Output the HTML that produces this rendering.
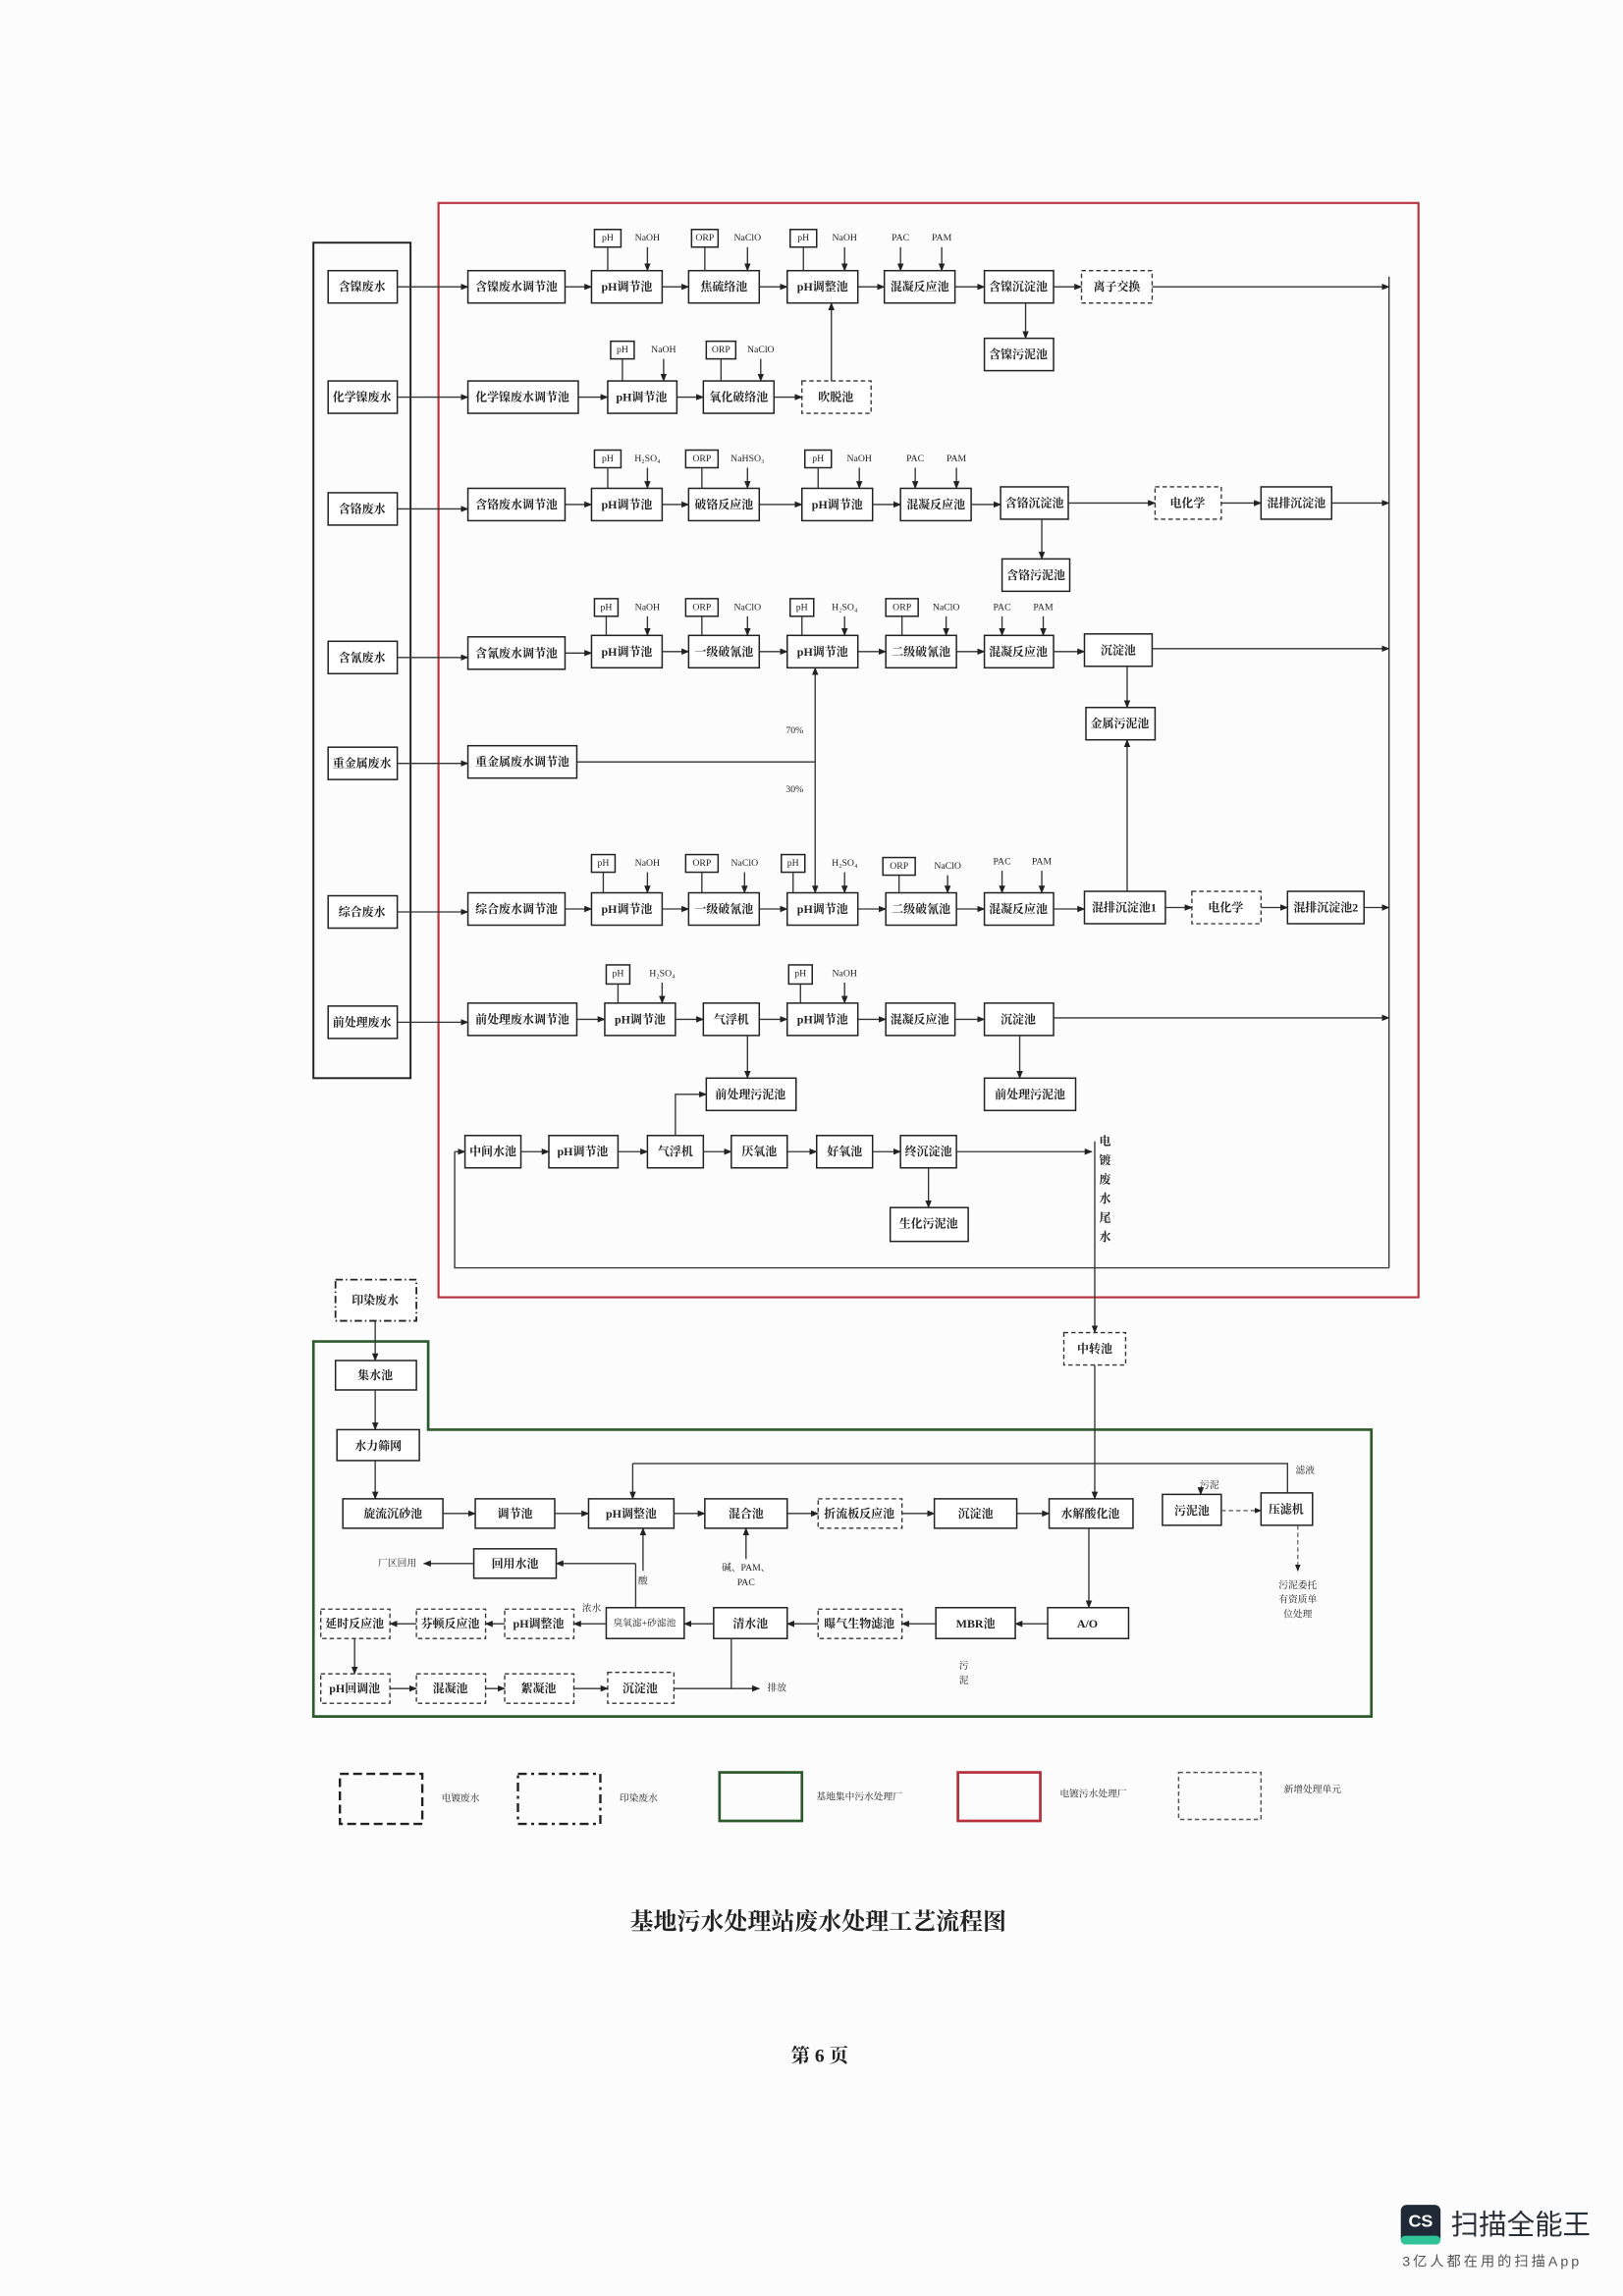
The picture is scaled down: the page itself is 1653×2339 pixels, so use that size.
<!DOCTYPE html>
<html><head><meta charset="utf-8">
<style>
html,body{margin:0;padding:0;background:#fcfcfc;}
svg{display:block;}
text{font-family:"Liberation Serif","Noto Serif CJK SC","Noto Sans CJK SC",serif;font-weight:bold;fill:#222;}
.b{fill:#fff;stroke:#222;stroke-width:1;}
.d{fill:#fff;stroke:#333;stroke-width:0.9;stroke-dasharray:3 2;}
.t{font-size:8px;text-anchor:middle;dominant-baseline:central;}
.s{font-size:6.5px;text-anchor:middle;dominant-baseline:central;font-weight:normal;}
.l{stroke:#333;stroke-width:0.9;fill:none;}
.a{stroke:#333;stroke-width:0.9;fill:none;marker-end:url(#ar);}
.ad{stroke:#555;stroke-width:0.8;fill:none;stroke-dasharray:3 2;marker-end:url(#ar);}
</style></head><body>
<svg width="1653" height="2339" viewBox="0 0 1103 1561" preserveAspectRatio="none" xmlns="http://www.w3.org/2000/svg">
<defs><marker id="ar" viewBox="0 0 10 10" refX="9" refY="5" markerWidth="6" markerHeight="6" orient="auto"><path d="M0,1 L10,5 L0,9 z" fill="#222"/></marker></defs>

<!-- red box -->
<rect x="298" y="138" width="666" height="744" fill="none" stroke="#b5303a" stroke-width="1.4"/>
<!-- source column -->
<rect x="213" y="165" width="66" height="568" fill="none" stroke="#222" stroke-width="1.3"/>
<g>
<rect class="b" x="223" y="184" width="47" height="22"/><text class="t" x="246" y="195">含镍废水</text>
<rect class="b" x="223" y="259" width="47" height="22"/><text class="t" x="246" y="270">化学镍废水</text>
<rect class="b" x="223" y="335" width="47" height="22"/><text class="t" x="246" y="346">含铬废水</text>
<rect class="b" x="223" y="436" width="47" height="22"/><text class="t" x="246" y="447">含氰废水</text>
<rect class="b" x="223" y="508" width="47" height="22"/><text class="t" x="246" y="519">重金属废水</text>
<rect class="b" x="223" y="609" width="47" height="22"/><text class="t" x="246" y="620">综合废水</text>
<rect class="b" x="223" y="684" width="47" height="22"/><text class="t" x="246" y="695">前处理废水</text>
</g>
<!-- source arrows -->
<path class="a" d="M270 195H318"/><path class="a" d="M270 270H318"/><path class="a" d="M270 346H318"/>
<path class="a" d="M270 447H318"/><path class="a" d="M270 519H318"/><path class="a" d="M270 620H318"/><path class="a" d="M270 695H318"/>

<!-- Row1 -->
<rect class="b" x="318" y="184" width="66" height="22"/><text class="t" x="351" y="195">含镍废水调节池</text>
<rect class="b" x="402" y="184" width="48" height="22"/><text class="t" x="426" y="195">pH调节池</text>
<rect class="b" x="468" y="184" width="48" height="22"/><text class="t" x="492" y="195">焦硫络池</text>
<rect class="b" x="535" y="184" width="48" height="22"/><text class="t" x="559" y="195">pH调整池</text>
<rect class="b" x="601" y="184" width="48" height="22"/><text class="t" x="625" y="195">混凝反应池</text>
<rect class="b" x="669" y="184" width="47" height="22"/><text class="t" x="692" y="195">含镍沉淀池</text>
<rect class="d" x="735" y="184" width="48" height="22"/><text class="t" x="759" y="195">离子交换</text>
<path class="a" d="M384 195H402"/><path class="a" d="M450 195H468"/><path class="a" d="M516 195H535"/><path class="a" d="M583 195H601"/><path class="a" d="M649 195H669"/><path class="a" d="M716 195H735"/><path class="a" d="M783 195H944"/>
<rect class="b" x="669" y="230" width="47" height="22"/><text class="t" x="692" y="241">含镍污泥池</text>
<path class="a" d="M697 206V230"/>
<!-- row1 sensors -->
<g>
<rect class="b" x="404" y="156" width="18" height="12"/><text class="s" x="413" y="162">pH</text><path class="l" d="M413 168V184"/><text class="s" x="440" y="162">NaOH</text><path class="a" d="M440 168V184"/>
<rect class="b" x="470" y="156" width="18" height="12"/><text class="s" x="479" y="162">ORP</text><path class="l" d="M479 168V184"/><text class="s" x="508" y="162">NaClO</text><path class="a" d="M508 168V184"/>
<rect class="b" x="537" y="156" width="18" height="12"/><text class="s" x="546" y="162">pH</text><path class="l" d="M546 168V184"/><text class="s" x="574" y="162">NaOH</text><path class="a" d="M574 168V184"/>
<text class="s" x="612" y="162">PAC</text><path class="a" d="M612 168V184"/><text class="s" x="640" y="162">PAM</text><path class="a" d="M640 168V184"/>
</g>

<!-- Row2 -->
<rect class="b" x="318" y="259" width="75" height="22"/><text class="t" x="355" y="270">化学镍废水调节池</text>
<rect class="b" x="413" y="259" width="47" height="22"/><text class="t" x="436" y="270">pH调节池</text>
<rect class="b" x="478" y="259" width="48" height="22"/><text class="t" x="502" y="270">氧化破络池</text>
<rect class="d" x="545" y="259" width="47" height="22"/><text class="t" x="568" y="270">吹脱池</text>
<path class="a" d="M393 270H413"/><path class="a" d="M460 270H478"/><path class="a" d="M526 270H545"/>
<path class="a" d="M565 259V206"/>
<rect class="b" x="415" y="232" width="16" height="12"/><text class="s" x="423" y="238">pH</text><path class="l" d="M423 244V259"/><text class="s" x="451" y="238">NaOH</text><path class="a" d="M451 244V259"/>
<rect class="b" x="480" y="232" width="20" height="12"/><text class="s" x="490" y="238">ORP</text><path class="l" d="M490 244V259"/><text class="s" x="517" y="238">NaClO</text><path class="a" d="M517 244V259"/>

<!-- Row3 -->
<rect class="b" x="318" y="332" width="66" height="22"/><text class="t" x="351" y="343">含铬废水调节池</text>
<rect class="b" x="402" y="332" width="48" height="22"/><text class="t" x="426" y="343">pH调节池</text>
<rect class="b" x="468" y="332" width="48" height="22"/><text class="t" x="492" y="343">破铬反应池</text>
<rect class="b" x="545" y="332" width="48" height="22"/><text class="t" x="569" y="343">pH调节池</text>
<rect class="b" x="612" y="332" width="48" height="22"/><text class="t" x="636" y="343">混凝反应池</text>
<rect class="b" x="680" y="331" width="46" height="22"/><text class="t" x="703" y="342">含铬沉淀池</text>
<rect class="d" x="785" y="331" width="45" height="22"/><text class="t" x="807" y="342">电化学</text>
<rect class="b" x="857" y="331" width="48" height="22"/><text class="t" x="881" y="342">混排沉淀池</text>
<path class="a" d="M384 343H402"/><path class="a" d="M450 343H468"/><path class="a" d="M516 343H545"/><path class="a" d="M593 343H612"/><path class="a" d="M660 343H680"/><path class="a" d="M726 342H785"/><path class="a" d="M830 342H857"/><path class="a" d="M905 342H944"/>
<rect class="b" x="681" y="380" width="46" height="22"/><text class="t" x="704" y="391">含铬污泥池</text>
<path class="a" d="M708 353V380"/>
<rect class="b" x="404" y="306" width="18" height="12"/><text class="s" x="413" y="312">pH</text><path class="l" d="M413 318V332"/><text class="s" x="440" y="312">H₂SO₄</text><path class="a" d="M440 318V332"/>
<rect class="b" x="466" y="306" width="22" height="12"/><text class="s" x="477" y="312">ORP</text><path class="l" d="M477 318V332"/><text class="s" x="508" y="312">NaHSO₃</text><path class="a" d="M508 318V332"/>
<rect class="b" x="547" y="306" width="18" height="12"/><text class="s" x="556" y="312">pH</text><path class="l" d="M556 318V332"/><text class="s" x="584" y="312">NaOH</text><path class="a" d="M584 318V332"/>
<text class="s" x="622" y="312">PAC</text><path class="a" d="M622 318V332"/><text class="s" x="650" y="312">PAM</text><path class="a" d="M650 318V332"/>

<!-- Row4 -->
<rect class="b" x="318" y="433" width="66" height="22"/><text class="t" x="351" y="444">含氰废水调节池</text>
<rect class="b" x="402" y="432" width="48" height="22"/><text class="t" x="426" y="443">pH调节池</text>
<rect class="b" x="468" y="432" width="48" height="22"/><text class="t" x="492" y="443">一级破氰池</text>
<rect class="b" x="535" y="432" width="48" height="22"/><text class="t" x="559" y="443">pH调节池</text>
<rect class="b" x="602" y="432" width="48" height="22"/><text class="t" x="626" y="443">二级破氰池</text>
<rect class="b" x="669" y="432" width="47" height="22"/><text class="t" x="692" y="443">混凝反应池</text>
<rect class="b" x="737" y="431" width="46" height="22"/><text class="t" x="760" y="442">沉淀池</text>
<path class="a" d="M384 444H402"/><path class="a" d="M450 443H468"/><path class="a" d="M516 443H535"/><path class="a" d="M583 443H602"/><path class="a" d="M650 443H669"/><path class="a" d="M716 443H737"/><path class="a" d="M783 441H944"/>
<rect class="b" x="738" y="481" width="47" height="22"/><text class="t" x="761" y="492">金属污泥池</text>
<path class="a" d="M766 453V481"/>
<rect class="b" x="404" y="407" width="16" height="12"/><text class="s" x="412" y="413">pH</text><path class="l" d="M412 419V432"/><text class="s" x="440" y="413">NaOH</text><path class="a" d="M440 419V432"/>
<rect class="b" x="466" y="407" width="22" height="12"/><text class="s" x="477" y="413">ORP</text><path class="l" d="M477 419V432"/><text class="s" x="508" y="413">NaClO</text><path class="a" d="M508 419V432"/>
<rect class="b" x="537" y="407" width="16" height="12"/><text class="s" x="545" y="413">pH</text><path class="l" d="M545 419V432"/><text class="s" x="574" y="413">H₂SO₄</text><path class="a" d="M574 419V432"/>
<rect class="b" x="602" y="407" width="22" height="12"/><text class="s" x="613" y="413">ORP</text><path class="l" d="M613 419V432"/><text class="s" x="643" y="413">NaClO</text><path class="a" d="M643 419V432"/>
<text class="s" x="681" y="413">PAC</text><path class="a" d="M681 419V432"/><text class="s" x="709" y="413">PAM</text><path class="a" d="M709 419V432"/>

<!-- Row5 -->
<rect class="b" x="318" y="507" width="74" height="22"/><text class="t" x="355" y="518">重金属废水调节池</text>
<path class="l" d="M392 518H554"/>
<path class="a" d="M554 518V454"/><path class="a" d="M554 518V607"/>
<text class="s" x="540" y="497">70%</text><text class="s" x="540" y="537">30%</text>
<path class="a" d="M766 607V503"/>

<!-- Row6 -->
<rect class="b" x="318" y="607" width="66" height="22"/><text class="t" x="351" y="618">综合废水调节池</text>
<rect class="b" x="402" y="607" width="48" height="22"/><text class="t" x="426" y="618">pH调节池</text>
<rect class="b" x="468" y="607" width="48" height="22"/><text class="t" x="492" y="618">一级破氰池</text>
<rect class="b" x="535" y="607" width="48" height="22"/><text class="t" x="559" y="618">pH调节池</text>
<rect class="b" x="602" y="607" width="48" height="22"/><text class="t" x="626" y="618">二级破氰池</text>
<rect class="b" x="669" y="607" width="47" height="22"/><text class="t" x="692" y="618">混凝反应池</text>
<rect class="b" x="737" y="606" width="55" height="22"/><text class="t" x="764" y="617">混排沉淀池1</text>
<rect class="d" x="810" y="606" width="47" height="22"/><text class="t" x="833" y="617">电化学</text>
<rect class="b" x="875" y="606" width="52" height="22"/><text class="t" x="901" y="617">混排沉淀池2</text>
<path class="a" d="M384 618H402"/><path class="a" d="M450 618H468"/><path class="a" d="M516 618H535"/><path class="a" d="M583 618H602"/><path class="a" d="M650 618H669"/><path class="a" d="M716 618H737"/><path class="a" d="M792 617H810"/><path class="a" d="M857 617H875"/><path class="a" d="M927 617H944"/>
<rect class="b" x="402" y="581" width="16" height="12"/><text class="s" x="410" y="587">pH</text><path class="l" d="M410 593V607"/><text class="s" x="440" y="587">NaOH</text><path class="a" d="M440 593V607"/>
<rect class="b" x="466" y="581" width="22" height="12"/><text class="s" x="477" y="587">ORP</text><path class="l" d="M477 593V607"/><text class="s" x="506" y="587">NaClO</text><path class="a" d="M506 593V607"/>
<rect class="b" x="531" y="581" width="16" height="12"/><text class="s" x="539" y="587">pH</text><path class="l" d="M539 593V607"/><text class="s" x="574" y="587">H₂SO₄</text><path class="a" d="M574 593V607"/>
<rect class="b" x="600" y="583" width="22" height="12"/><text class="s" x="611" y="589">ORP</text><path class="l" d="M611 595V607"/><text class="s" x="644" y="589">NaClO</text><path class="a" d="M644 595V607"/>
<text class="s" x="681" y="586">PAC</text><path class="a" d="M681 592V607"/><text class="s" x="708" y="586">PAM</text><path class="a" d="M708 592V607"/>

<!-- Row7 -->
<rect class="b" x="318" y="682" width="74" height="22"/><text class="t" x="355" y="693">前处理废水调节池</text>
<rect class="b" x="411" y="682" width="48" height="22"/><text class="t" x="435" y="693">pH调节池</text>
<rect class="b" x="478" y="682" width="38" height="22"/><text class="t" x="497" y="693">气浮机</text>
<rect class="b" x="535" y="682" width="48" height="22"/><text class="t" x="559" y="693">pH调节池</text>
<rect class="b" x="602" y="682" width="47" height="22"/><text class="t" x="625" y="693">混凝反应池</text>
<rect class="b" x="669" y="682" width="47" height="22"/><text class="t" x="692" y="693">沉淀池</text>
<path class="a" d="M392 693H411"/><path class="a" d="M459 693H478"/><path class="a" d="M516 693H535"/><path class="a" d="M583 693H602"/><path class="a" d="M649 693H669"/><path class="a" d="M716 692H944"/>
<rect class="b" x="480" y="733" width="61" height="22"/><text class="t" x="510" y="744">前处理污泥池</text>
<rect class="b" x="669" y="733" width="62" height="22"/><text class="t" x="700" y="744">前处理污泥池</text>
<path class="a" d="M508 704V733"/><path class="a" d="M693 704V733"/>
<rect class="b" x="412" y="656" width="16" height="13"/><text class="s" x="420" y="662">pH</text><path class="l" d="M420 669V682"/><text class="s" x="450" y="662">H₂SO₄</text><path class="a" d="M450 668V682"/>
<rect class="b" x="536" y="656" width="16" height="13"/><text class="s" x="544" y="662">pH</text><path class="l" d="M544 669V682"/><text class="s" x="574" y="662">NaOH</text><path class="a" d="M574 668V682"/>

<!-- Row8 -->
<rect class="b" x="316" y="772" width="38" height="22"/><text class="t" x="335" y="783">中间水池</text>
<rect class="b" x="373" y="772" width="47" height="22"/><text class="t" x="396" y="783">pH调节池</text>
<rect class="b" x="440" y="772" width="38" height="22"/><text class="t" x="459" y="783">气浮机</text>
<rect class="b" x="497" y="772" width="38" height="22"/><text class="t" x="516" y="783">厌氧池</text>
<rect class="b" x="555" y="772" width="38" height="22"/><text class="t" x="574" y="783">好氧池</text>
<rect class="b" x="612" y="772" width="38" height="22"/><text class="t" x="631" y="783">终沉淀池</text>
<path class="a" d="M354 783H373"/><path class="a" d="M420 783H440"/><path class="a" d="M478 783H497"/><path class="a" d="M535 783H555"/><path class="a" d="M593 783H612"/><path class="a" d="M650 783H742"/>
<path class="a" d="M459 772V744H480"/>
<rect class="b" x="605" y="821" width="53" height="23"/><text class="t" x="631" y="832">生化污泥池</text>
<path class="a" d="M631 794V821"/>
<text class="t" x="751" y="776">电</text><text class="t" x="751" y="789">镀</text><text class="t" x="751" y="802">废</text><text class="t" x="751" y="815">水</text><text class="t" x="751" y="828">尾</text><text class="t" x="751" y="841">水</text>
<!-- collector -->
<path class="l" d="M944 188V862"/>
<path class="l" d="M944 862H309V783"/><path class="a" d="M309 783H316"/>
<path class="l" d="M744 776V862"/>
<path class="a" d="M744 862V906"/>

<!-- Bottom green -->
<path d="M213 912H291V972H932V1167H213Z" fill="none" stroke="#2c5a2c" stroke-width="1.8"/>
<rect x="228" y="870" width="55" height="28" fill="#fff" stroke="#222" stroke-width="1.2" stroke-dasharray="5 2 1 2"/><text class="t" x="255" y="884">印染废水</text>
<rect class="b" x="228" y="925" width="55" height="20"/><text class="t" x="255" y="935">集水池</text>
<rect class="b" x="229" y="972" width="56" height="21"/><text class="t" x="257" y="983">水力筛网</text>
<path class="a" d="M255 898V925"/><path class="a" d="M255 945V972"/><path class="a" d="M255 993V1019"/>
<rect class="d" x="723" y="906" width="42" height="22"/><text class="t" x="744" y="917">中转池</text>
<path class="a" d="M744 928V1019"/>

<g>
<rect class="b" x="233" y="1019" width="68" height="20"/><text class="t" x="267" y="1029">旋流沉砂池</text>
<rect class="b" x="323" y="1019" width="54" height="20"/><text class="t" x="350" y="1029">调节池</text>
<rect class="b" x="400" y="1019" width="58" height="20"/><text class="t" x="429" y="1029">pH调整池</text>
<rect class="b" x="479" y="1019" width="56" height="20"/><text class="t" x="507" y="1029">混合池</text>
<rect class="d" x="556" y="1019" width="57" height="20"/><text class="t" x="584" y="1029">折流板反应池</text>
<rect class="b" x="635" y="1019" width="56" height="20"/><text class="t" x="663" y="1029">沉淀池</text>
<rect class="b" x="713" y="1019" width="57" height="20"/><text class="t" x="741" y="1029">水解酸化池</text>
<rect class="b" x="790" y="1016" width="40" height="21"/><text class="t" x="810" y="1027">污泥池</text>
<rect class="b" x="857" y="1015" width="35" height="22"/><text class="t" x="874" y="1026">压滤机</text>
</g>
<path class="a" d="M301 1029H323"/><path class="a" d="M377 1029H400"/><path class="a" d="M458 1029H479"/><path class="a" d="M535 1029H556"/><path class="a" d="M613 1029H635"/><path class="a" d="M691 1029H713"/>
<path class="ad" d="M830 1027H857"/>
<path class="l" d="M875 1015V995H430"/><path class="a" d="M430 995V1019"/>
<text class="s" x="887" y="1000">滤液</text>
<text class="s" x="822" y="1010">污泥</text><path class="a" d="M816 1012V1016"/>
<path class="ad" d="M882 1037V1068"/>
<text class="s" x="882" y="1078">污泥委托</text><text class="s" x="882" y="1088">有资质单</text><text class="s" x="882" y="1098">位处理</text>
<path class="a" d="M437 1068V1039"/><text class="s" x="437" y="1075">酸</text>
<path class="a" d="M507 1060V1039"/><text class="s" x="507" y="1066">碱、PAM、</text><text class="s" x="507" y="1076">PAC</text>
<path class="a" d="M740 1039V1093"/>

<rect class="b" x="322" y="1053" width="56" height="20"/><text class="t" x="350" y="1063">回用水池</text>
<path class="a" d="M322 1063H288"/><text class="s" x="270" y="1063">厂区回用</text>
<path class="l" d="M432 1093V1063"/><path class="a" d="M432 1063H378"/>

<g>
<rect class="d" x="218" y="1094" width="47" height="20"/><text class="t" x="241" y="1104">延时反应池</text>
<rect class="d" x="283" y="1094" width="47" height="20"/><text class="t" x="306" y="1104">芬顿反应池</text>
<rect class="d" x="343" y="1094" width="47" height="20"/><text class="t" x="366" y="1104">pH调整池</text>
<rect class="b" x="412" y="1093" width="53" height="21"/><text class="s" x="438" y="1104">臭氧滤+砂滤池</text>
<rect class="b" x="485" y="1093" width="50" height="21"/><text class="t" x="510" y="1104">清水池</text>
<rect class="d" x="556" y="1094" width="57" height="20"/><text class="t" x="584" y="1104">曝气生物滤池</text>
<rect class="b" x="636" y="1093" width="54" height="21"/><text class="t" x="663" y="1104">MBR池</text>
<rect class="b" x="712" y="1093" width="55" height="21"/><text class="t" x="739" y="1104">A/O</text>
</g>
<path class="a" d="M712 1104H690"/><path class="a" d="M636 1104H613"/><path class="a" d="M556 1104H535"/><path class="a" d="M485 1104H465"/><path class="a" d="M412 1104H390"/><path class="a" d="M343 1104H330"/><path class="a" d="M283 1104H265"/>
<text class="s" x="402" y="1094">浓水</text>
<text class="s" x="655" y="1133">污</text><text class="s" x="655" y="1143">泥</text>
<path class="a" d="M241 1114V1138"/>
<g>
<rect class="d" x="218" y="1138" width="47" height="20"/><text class="t" x="241" y="1148">pH回调池</text>
<rect class="d" x="283" y="1138" width="47" height="20"/><text class="t" x="306" y="1148">混凝池</text>
<rect class="d" x="343" y="1138" width="47" height="20"/><text class="t" x="366" y="1148">絮凝池</text>
<rect class="d" x="413" y="1137" width="45" height="21"/><text class="t" x="435" y="1148">沉淀池</text>
</g>
<path class="a" d="M265 1148H283"/><path class="a" d="M330 1148H343"/><path class="a" d="M390 1148H413"/>
<path class="l" d="M458 1148H497"/><path class="a" d="M497 1114V1148H516"/>
<text class="s" x="528" y="1148">排放</text>

<!-- Legend -->
<rect x="231" y="1206" width="56" height="34" fill="none" stroke="#222" stroke-width="1.6" stroke-dasharray="6 3"/><text class="s" x="313" y="1223">电镀废水</text>
<rect x="352" y="1206" width="56" height="34" fill="none" stroke="#222" stroke-width="1.6" stroke-dasharray="6 3 2 3"/><text class="s" x="434" y="1223">印染废水</text>
<rect x="489" y="1205" width="56" height="33" fill="none" stroke="#2c5a2c" stroke-width="1.8"/><text class="s" x="584" y="1222">基地集中污水处理厂</text>
<rect x="651" y="1205" width="56" height="33" fill="none" stroke="#b5303a" stroke-width="1.8"/><text class="s" x="743" y="1220">电镀污水处理厂</text>
<rect x="801" y="1205" width="56" height="32" fill="none" stroke="#555" stroke-width="1" stroke-dasharray="3 2"/><text class="s" x="892" y="1217">新增处理单元</text>

<text x="556" y="1307" style="font-size:16px;text-anchor:middle;dominant-baseline:central;">基地污水处理站废水处理工艺流程图</text>
<text x="557" y="1398" style="font-size:13px;text-anchor:middle;dominant-baseline:central;">第 6 页</text>

<!-- CamScanner -->
<rect x="952" y="1499" width="27" height="27" rx="4" fill="#1f2a36"/>
<rect x="952" y="1520" width="27" height="6" rx="3" fill="#2fc39a"/>
<text x="965.5" y="1510" style="font-family:'Liberation Sans',sans-serif;font-size:12px;font-weight:bold;fill:#fff;text-anchor:middle;dominant-baseline:central;">CS</text>
<text x="986" y="1513" style="font-family:'Liberation Sans','Noto Sans CJK SC',sans-serif;font-size:19px;font-weight:normal;fill:#2a2f36;dominant-baseline:central;">扫描全能王</text>
<text x="953" y="1538" style="font-family:'Liberation Sans','Noto Sans CJK SC',sans-serif;font-size:9.5px;font-weight:normal;fill:#555;dominant-baseline:central;letter-spacing:2px;">3亿人都在用的扫描App</text>
</svg>
</body></html>
